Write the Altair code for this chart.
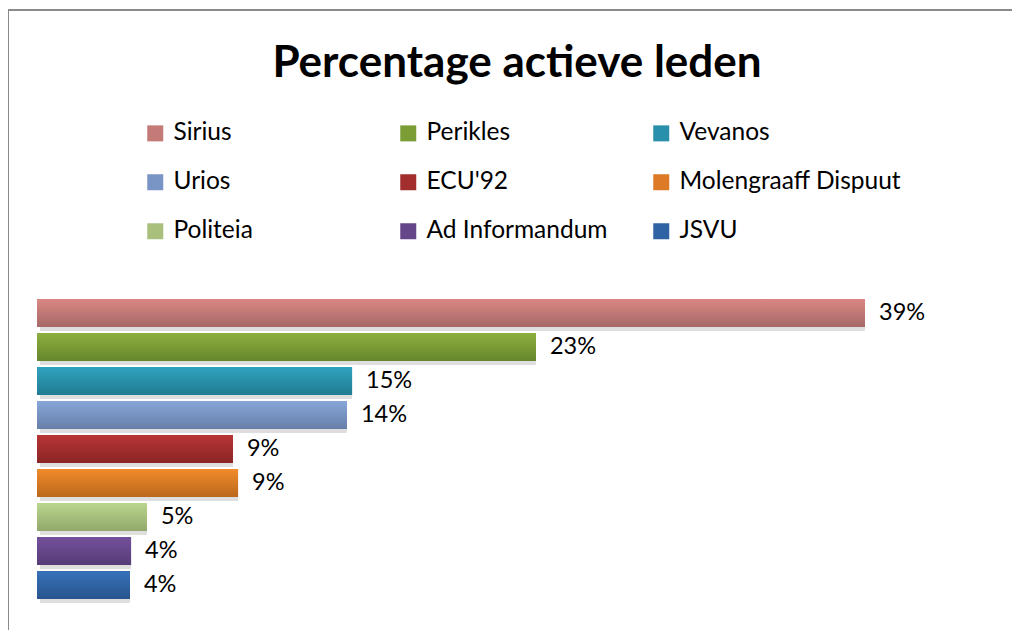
import altair as alt
import pandas as pd

names = ["Sirius", "Perikles", "Vevanos", "Urios", "ECU'92",
         "Molengraaff Dispuut", "Politeia", "Ad Informandum", "JSVU"]
values = [39.0, 23.5, 14.84, 14.6, 9.23, 9.47, 5.18, 4.43, 4.38]
labels = ["39%", "23%", "15%", "14%", "9%", "9%", "5%", "4%", "4%"]
mid_colors = ["#c47a77", "#7c9c36", "#2890ab", "#7895c5", "#a22e2e",
              "#dc7a25", "#a8c07c", "#654689", "#3063a3"]
top_colors = ["#da8784", "#8db03f", "#2fa3c1", "#87a6d9", "#b93535",
              "#f28b2b", "#bad68e", "#73519b", "#3672ba"]
bot_colors = ["#a56967", "#66862c", "#217b92", "#687fa8", "#8a2525",
              "#bb681d", "#93a86c", "#573b77", "#29558d"]

df = pd.DataFrame({"name": names, "value": values, "label": labels})

FONT = "Lato"
W, H = 1004, 620

x_enc = alt.X("value:Q", axis=None,
              scale=alt.Scale(domain=[0, 39], range=[29, 857], nice=False, zero=True))
y_enc = alt.Y("name:N", axis=None, sort=names,
              scale=alt.Scale(range=[286, 592], paddingInner=0.176, paddingOuter=0.088))

base = alt.Chart(df).encode(x=x_enc, y=y_enc)

shadow = base.mark_bar(color="#000000", opacity=0.13, xOffset=3, yOffset=4, cornerRadius=1)

solid = base.mark_bar().encode(
    color=alt.Color("name:N", sort=names,
                    scale=alt.Scale(domain=names, range=mid_colors),
                    legend=alt.Legend(
                        title=None, orient="none", legendX=135, legendY=111,
                        columns=3, direction="horizontal", gridAlign="all",
                        columnPadding=0, rowPadding=24, padding=0,
                        symbolType="square", symbolSize=256, symbolStrokeWidth=0,
                        symbolOffset=0, labelOffset=6,
                        labelFont=FONT, labelFontSize=24.5, labelColor="#000000",
                        labelLimit=400))
)

grad_layers = []
for n, t, b in zip(names, top_colors, bot_colors):
    grad_layers.append(
        base.transform_filter(alt.datum.name == n).mark_bar(
            color=alt.Gradient(gradient="linear", x1=0, y1=0, x2=0, y2=1,
                               stops=[alt.GradientStop(color=t, offset=0),
                                      alt.GradientStop(color=b, offset=1)])
        )
    )

text = base.mark_text(align="left", baseline="middle", dx=14, font=FONT,
                      fontSize=23.5, color="#000000").encode(text="label:N")

# chart frame (left and top edges, as in the original)
frame_left = alt.Chart(df).mark_rule(color="#8a8a8a", strokeWidth=2).encode(
    x=alt.value(0), y=alt.value(-1), y2=alt.value(H + 20))
frame_top = alt.Chart(df).mark_rule(color="#8a8a8a", strokeWidth=2).encode(
    x=alt.value(-1), x2=alt.value(W), y=alt.value(0))

chart = alt.layer(frame_left, frame_top, shadow, solid, *grad_layers, text).properties(
    width=W, height=H,
    autosize=alt.AutoSizeParams(type="none"),
    padding={"left": 0, "top": 2, "right": 0, "bottom": 0},
    title=alt.TitleParams("Percentage actieve leden", font=FONT, fontSize=44,
                          fontWeight="bold", color="#000000", anchor="middle",
                          offset=-78, dx=7),
).configure_view(stroke=None)

chart.save("out.html", embed_options={"renderer": "svg", "actions": False})
